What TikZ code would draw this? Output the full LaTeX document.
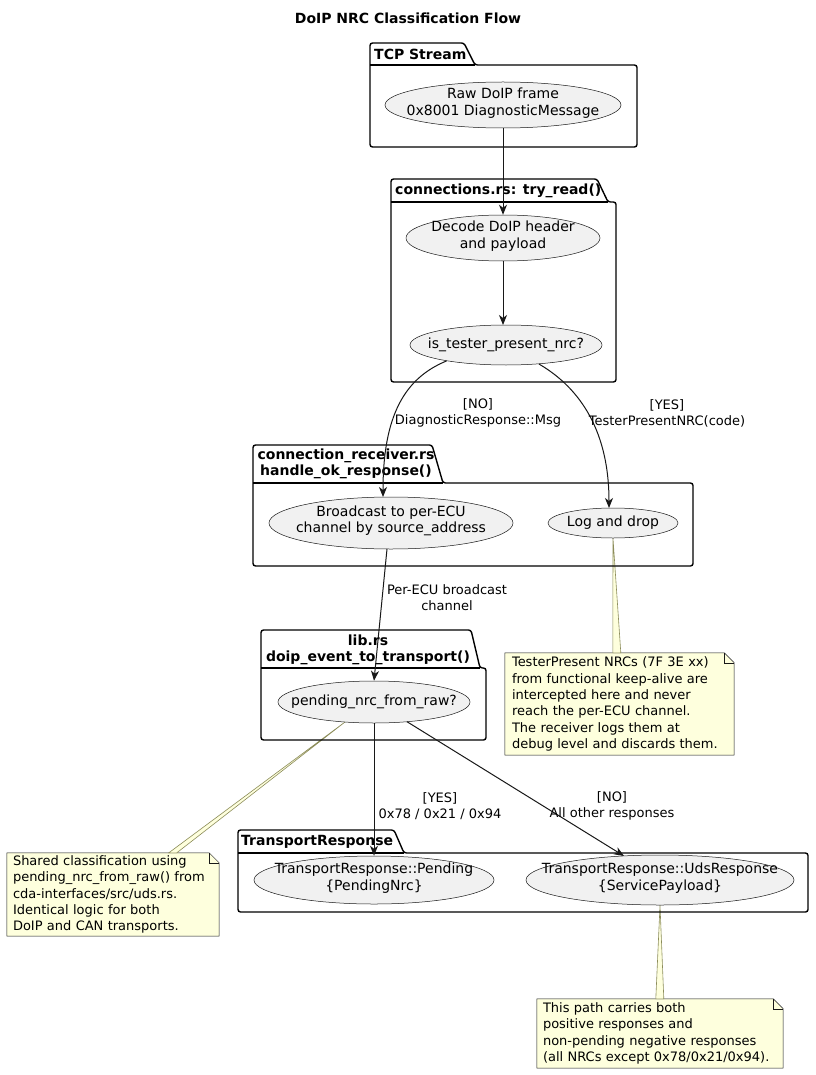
\documentclass[tikz,border=0pt]{standalone}
\usepackage{fontspec}
\setmainfont{DejaVu Sans}
\usetikzlibrary{shapes.geometric,arrows.meta,calc,backgrounds}
\definecolor{ucfill}{HTML}{F1F1F1}
\definecolor{ink}{HTML}{181818}
\definecolor{notefill}{HTML}{FEFFDD}
\definecolor{noteline}{HTML}{8C8C5A}
\begin{document}
\begin{tikzpicture}[x=1pt,y=-1pt,
  uc/.style={ellipse,draw=ink,line width=0.5pt,fill=ucfill,inner sep=0pt},
  uctext/.style={inner sep=0pt,align=center,font=\fontsize{14}{16.5}\selectfont},
  flow/.style={draw=ink,line width=1pt,-{Stealth[length=10pt,width=8pt,inset=3pt]}},
  elabel/.style={align=center,font=\fontsize{13}{16}\selectfont,inner sep=0pt},
  pkgtitle/.style={font=\bfseries\fontsize{14}{16.5}\selectfont,inner sep=0pt,align=center},
  pkg/.style={draw=black,line width=1.4pt,rounded corners=2.5pt},
  notebox/.style={inner sep=0pt,align=left,font=\fontsize{13}{16.3}\selectfont},
  noteedge/.style={draw=ink,line width=0.5pt,fill=notefill},
  wedge/.style={draw=noteline,line width=0.6pt,fill=notefill},
]
\useasboundingbox (0,0) rectangle (815,1075);

% title
\node[pkgtitle] (title) at (408,18) {DoIP NRC Classification Flow};

% packages
\draw[pkg] (370,147) -- (370,43) -- (464,43) -- (475,65) -- (637,65) -- (637,147) -- cycle;
\draw[line width=1.4pt] (370,65) -- (475,65);
\node[pkgtitle,anchor=west] (p1) at (374,54) {TCP Stream};

\draw[pkg] (391,382) -- (391,179) -- (597,179) -- (608,202) -- (616,202) -- (616,382) -- cycle;
\draw[line width=1.4pt] (391,202) -- (608,202);
\node[pkgtitle,anchor=west] (p2) at (395,191) {connections.rs: try\_read()};

\draw[pkg] (253,566) -- (253,445) -- (432,445) -- (443,483) -- (693,483) -- (693,566) -- cycle;
\draw[line width=1.4pt] (253,483) -- (443,483);
\node[pkgtitle] (p3) at (346,464) {connection\_receiver.rs\\handle\_ok\_response()};

\draw[pkg] (261,740) -- (261,630) -- (471,630) -- (480,668) -- (486,668) -- (486,740) -- cycle;
\draw[line width=1.4pt] (261,668) -- (480,668);
\node[pkgtitle] (p4) at (368,650) {lib.rs\\doip\_event\_to\_transport()};

\draw[pkg] (238,912) -- (238,830) -- (394,830) -- (404,853) -- (808,853) -- (808,912) -- cycle;
\draw[line width=1.4pt] (238,853) -- (404,853);
\node[pkgtitle,anchor=west] (p5) at (241,842) {TransportResponse};

% use cases
\node[uc,minimum width=236,minimum height=46] (raw) at (503,105) {};
\node[uctext] (rawt) at ($(raw)+(0,-2)$) {Raw DoIP frame\\0x8001 DiagnosticMessage};
\node[uc,minimum width=194,minimum height=46] (dec) at (503,238) {};
\node[uctext] (dect) at ($(dec)+(0,-2)$) {Decode DoIP header\\and payload};
\node[uc,minimum width=192,minimum height=40] (tp) at (506,345) {};
\node[uctext] (tpt) at (tp) {is\_tester\_present\_nrc?};
\node[uc,minimum width=244,minimum height=52] (bc) at (391,523) {};
\node[uctext] (bct) at ($(bc)+(0,-2)$) {Broadcast to per-ECU\\channel by source\_address};
\node[uc,minimum width=130,minimum height=30] (ld) at (613,523) {};
\node[uctext] (ldt) at (ld) {Log and drop};
\node[uc,minimum width=192,minimum height=42] (pn) at (374,702) {};
\node[uctext] (pnt) at (pn) {pending\_nrc\_from\_raw?};
\node[uc,minimum width=240,minimum height=48] (pt) at (374,880) {};
\node[uctext] (ptt) at ($(pt)+(0,-2)$) {TransportResponse::Pending\\\{PendingNrc\}};
\node[uc,minimum width=268,minimum height=50] (ur) at (660,880) {};
\node[uctext] (urt) at ($(ur)+(0,-2)$) {TransportResponse::UdsResponse\\\{ServicePayload\}};

% flows
\draw[flow] (raw.south) -- (dec.north);
\draw[flow] (dec.south) -- ($(tp.center)+(-3,-20)$);
\draw[flow] (tp.195) .. controls (405,378) and (383,415) .. ($(bc.center)+(-8,-26)$);
\draw[flow] (tp.-30) .. controls (575,385) and (609,425) .. ($(ld.center)+(-4,-15)$);
\draw[flow] ($(bc.center)+(-4,26)$) -- (pn.north);
\draw[flow] (pn.south) -- (pt.north);
\draw[flow] ($(pn.center)+(33,19.7)$) -- ($(ur.center)+(-36,-24)$);

% edge labels
\node[elabel] (l1) at (478,413) {[NO]\\DiagnosticResponse::Msg};
\node[elabel] (l2) at (667,413) {[YES]\\TesterPresentNRC(code)};
\node[elabel] (l3) at (447,598) {Per-ECU broadcast\\channel};
\node[elabel] (l4) at (440,806) {[YES]\\0x78 / 0x21 / 0x94};
\node[elabel] (l5) at (612,806) {[NO]\\All other responses};

% notes
\node[notebox,minimum width=229,minimum height=102,text width=215,inner xsep=7] (n1) at (619.5,704)
  {TesterPresent NRCs (7F 3E xx)\\from functional keep-alive are\\intercepted here and never\\reach the per-ECU channel.\\The receiver logs them at\\debug level and discards them.};
\node[notebox,minimum width=212,minimum height=83,text width=200,inner xsep=6] (n2) at (113,894.5)
  {Shared classification using\\pending\_nrc\_from\_raw() from\\cda-interfaces/src/uds.rs.\\Identical logic for both\\DoIP and CAN transports.};
\node[notebox,minimum width=246,minimum height=69,text width=234,inner xsep=6] (n3) at (660,1033.5)
  {This path carries both\\positive responses and\\non-pending negative responses\\(all NRCs except 0x78/0x21/0x94).};

\begin{pgfonlayer}{background}
  \fill[white] (0,0) rectangle (815,1075);
  \foreach \n in {n1,n2,n3}{
    \draw[noteedge] (\n.north west) -- ($(\n.north east)+(-10,0)$) -- ($(\n.north east)+(0,10)$) -- (\n.south east) -- (\n.south west) -- cycle;
    \draw[ink,line width=0.5pt] ($(\n.north east)+(-10,0)$) -- ($(\n.north east)+(-10,10)$) -- ($(\n.north east)+(0,10)$);
  }
  \draw[wedge] (ld.south) -- ($(n1.north west)+(108,0)$) -- ($(n1.north west)+(116,0)$) -- cycle;
  \draw[wedge] ($(pn.center)+(-29,20)$) -- ($(n2.north west)+(162,0)$) -- ($(n2.north west)+(170,0)$) -- cycle;
  \draw[wedge] (ur.south) -- ($(n3.north west)+(119,0)$) -- ($(n3.north west)+(127,0)$) -- cycle;
\end{pgfonlayer}
\end{tikzpicture}
\end{document}
